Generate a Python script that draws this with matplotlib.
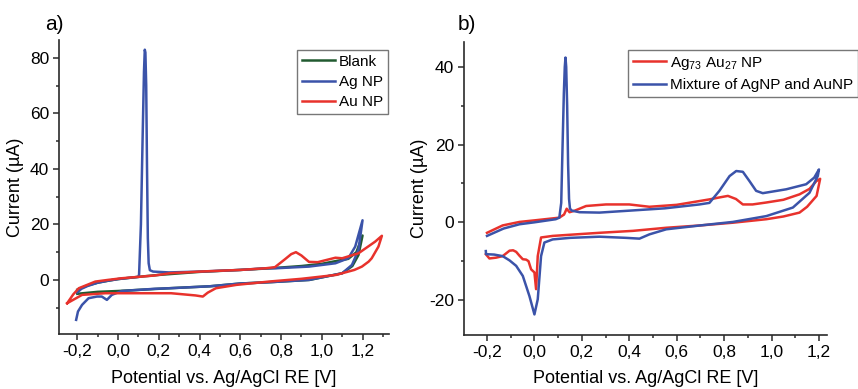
import matplotlib
matplotlib.use("Agg")
import matplotlib.pyplot as plt
from matplotlib.ticker import MultipleLocator, FuncFormatter

plt.rcParams['font.family'] = ['Liberation Sans', 'DejaVu Sans']
plt.rcParams['mathtext.default'] = 'regular'
plt.rcParams['axes.unicode_minus'] = False

# ---- panel a) : cyclic voltammograms (potential V, current uA) ----
# Blank
blank_up_E = [-0.20, -0.15, -0.10, -0.05, 0.00, 0.10, 0.20, 0.40, 0.60, 0.75, 0.90, 1.00, 1.07, 1.13, 1.17, 1.20]
blank_up_I = [-3.5, -2.0, -1.0, -0.3, 0.3, 1.1, 1.8, 2.9, 3.6, 4.2, 5.0, 5.8, 6.8, 7.6, 10.0, 16.0]
blank_dn_E = [1.20, 1.18, 1.15, 1.10, 0.94, 0.75, 0.60, 0.45, 0.25, 0.10, 0.00, -0.10, -0.20]
blank_dn_I = [16.0, 9.0, 5.0, 2.4, 0.0, -0.8, -1.3, -2.3, -3.0, -3.6, -4.0, -4.3, -5.0]

# Ag NP
ag_up_E = [-0.20, -0.18, -0.15, -0.10, -0.05, 0.00, 0.05, 0.10, 0.103, 0.112, 0.120, 0.127, 0.131,
           0.134, 0.138, 0.142, 0.146, 0.150, 0.156, 0.172, 0.25, 0.40, 0.60, 0.725, 0.774, 0.937,
           1.067, 1.13, 1.164, 1.20]
ag_up_I = [-4.5, -3.2, -2.2, -1.0, -0.3, 0.3, 0.7, 1.1, 2.0, 20.0, 50.0, 75.0, 83.0,
           82.0, 70.0, 40.0, 15.0, 6.0, 3.5, 3.0, 2.7, 3.0, 3.6, 4.2, 4.2, 4.8,
           6.0, 7.8, 12.0, 21.5]
ag_dn_E = [1.20, 1.18, 1.148, 1.10, 0.937, 0.75, 0.60, 0.45, 0.254, 0.18, 0.018, -0.031, -0.055,
           -0.08, -0.104, -0.145, -0.177, -0.197, -0.206]
ag_dn_I = [21.5, 10.8, 5.4, 2.4, 0.0, -0.8, -1.3, -2.3, -3.0, -3.2, -4.0, -5.4, -7.2,
           -6.0, -6.0, -6.6, -9.0, -11.4, -14.4]

# Au NP
au_up_E = [-0.25, -0.22, -0.193, -0.112, -0.05, 0.018, 0.10, 0.18, 0.254, 0.40, 0.60, 0.725, 0.77,
           0.82, 0.85, 0.873, 0.90, 0.937, 0.98, 1.067, 1.10, 1.18, 1.262, 1.295]
au_up_I = [-8.4, -5.2, -3.0, -0.6, 0.0, 0.6, 1.1, 1.6, 2.4, 3.0, 3.6, 4.2, 4.6,
           7.5, 9.3, 10.0, 8.8, 6.5, 6.4, 8.0, 7.8, 9.6, 13.8, 15.9]
au_dn_E = [1.295, 1.278, 1.245, 1.23, 1.197, 1.16, 1.07, 0.90, 0.74, 0.58, 0.48, 0.44, 0.416,
           0.38, 0.26, 0.10, -0.063, -0.177, -0.25]
au_dn_I = [15.9, 12.0, 7.8, 6.6, 4.8, 3.6, 1.8, 0.4, -0.6, -1.8, -3.0, -4.6, -6.0,
           -5.6, -4.8, -4.8, -4.8, -5.4, -8.4]

# ---- panel b) ----
# Ag73Au27 NP
alloy_up_E = [-0.20, -0.134, -0.063, 0.00, 0.105, 0.125, 0.136, 0.148, 0.17, 0.218, 0.302, 0.40,
              0.485, 0.60, 0.738, 0.78, 0.816, 0.85, 0.879, 0.92, 0.978, 1.05, 1.118, 1.16,
              1.189, 1.205]
alloy_up_I = [-2.7, -0.8, 0.1, 0.5, 1.2, 2.0, 3.5, 2.6, 3.0, 4.2, 4.6, 4.6,
              4.0, 4.5, 5.9, 6.4, 6.8, 6.0, 4.6, 4.6, 5.1, 5.8, 7.2, 8.6,
              10.6, 11.2]
alloy_dn_E = [1.205, 1.19, 1.15, 1.118, 1.05, 0.978, 0.837, 0.70, 0.556, 0.415, 0.274, 0.15,
              0.077, 0.028, 0.014, 0.007, 0.0, -0.014, -0.025, -0.035, -0.049, -0.063, -0.077,
              -0.09, -0.105, -0.134, -0.162, -0.19, -0.205]
alloy_dn_I = [11.2, 6.8, 4.0, 2.5, 1.5, 0.8, -0.1, -0.8, -1.4, -2.2, -2.7, -3.2,
              -3.5, -3.9, -8.7, -17.2, -12.9, -12.1, -10.0, -9.6, -9.5, -8.6, -7.6,
              -7.2, -7.3, -8.7, -9.1, -9.3, -8.2]

# Mixture of AgNP and AuNP
mix_up_E = [-0.20, -0.13, -0.063, 0.00, 0.09, 0.105, 0.113, 0.118, 0.124, 0.128, 0.131, 0.134,
            0.138, 0.142, 0.146, 0.150, 0.158, 0.19, 0.274, 0.40, 0.55, 0.696, 0.738, 0.78,
            0.823, 0.851, 0.879, 0.907, 0.935, 0.963, 1.062, 1.146, 1.18, 1.20]
mix_up_I = [-3.5, -1.6, -0.5, 0.0, 0.8, 1.2, 5.0, 18.0, 33.0, 40.0, 42.4, 40.0,
            30.0, 15.0, 6.0, 3.5, 3.0, 2.6, 2.5, 3.0, 3.6, 4.6, 5.0, 8.1,
            11.9, 13.2, 13.0, 10.6, 8.1, 7.5, 8.5, 9.8, 11.5, 13.6]
mix_dn_E = [1.20, 1.195, 1.16, 1.09, 0.978, 0.837, 0.70, 0.556, 0.485, 0.443, 0.387, 0.274,
            0.15, 0.077, 0.042, 0.028, 0.014, 0.0, -0.021, -0.049, -0.077, -0.105, -0.134,
            -0.17, -0.204, -0.205]
mix_dn_I = [13.6, 11.9, 7.6, 3.8, 1.6, 0.1, -0.8, -1.8, -3.1, -4.2, -4.0, -3.7,
            -4.0, -4.4, -5.2, -8.7, -19.8, -23.7, -19.0, -13.8, -11.2, -9.8, -8.7,
            -8.3, -8.2, -7.4]

GREEN = '#215a30'
BLUE = '#3b53a9'
RED = '#e8322c'
LW = 1.8

fig = plt.figure(figsize=(8.58, 3.89), dpi=100)
ax_a = fig.add_axes([0.0688, 0.1414, 0.3846, 0.7558])
ax_b = fig.add_axes([0.5408, 0.1388, 0.4231, 0.7532])

ax_a.plot(blank_up_E + blank_dn_E, blank_up_I + blank_dn_I, color=GREEN, lw=LW, label='Blank')
ax_a.plot(ag_up_E + ag_dn_E, ag_up_I + ag_dn_I, color=BLUE, lw=LW, label='Ag NP')
ax_a.plot(au_up_E + au_dn_E, au_up_I + au_dn_I, color=RED, lw=LW, label='Au NP')

ax_b.plot(alloy_up_E + alloy_dn_E, alloy_up_I + alloy_dn_I, color=RED, lw=LW,
          label='Ag$_{73}$ Au$_{27}$ NP')
ax_b.plot(mix_up_E + mix_dn_E, mix_up_I + mix_dn_I, color=BLUE, lw=LW,
          label='Mixture of AgNP and AuNP')

# decimal comma on the potential axis
comma = FuncFormatter(lambda v, p: f'{v:.1f}'.replace('.', ','))
for ax in (ax_a, ax_b):
    for s in ('top', 'right'):
        ax.spines[s].set_visible(False)
    for s in ('left', 'bottom'):
        ax.spines[s].set_linewidth(1.2)
        ax.spines[s].set_color('#2a2a2a')
    ax.xaxis.set_major_locator(MultipleLocator(0.2))
    ax.xaxis.set_minor_locator(MultipleLocator(0.1))
    ax.yaxis.set_major_locator(MultipleLocator(20))
    ax.yaxis.set_minor_locator(MultipleLocator(10))
    ax.xaxis.set_major_formatter(comma)
    ax.tick_params(which='major', direction='out', length=4, width=1.1, labelsize=12.5,
                   color='#2a2a2a', pad=3)
    ax.tick_params(which='minor', direction='out', length=2.5, width=1.1, color='#2a2a2a')
    ax.set_xlabel('Potential vs. Ag/AgCl RE [V]', fontsize=13)
    ax.set_ylabel('Current (µA)', fontsize=13)

ax_a.set_xlim(-0.29, 1.33)
ax_a.set_ylim(-19.5, 86.5)
ax_b.set_xlim(-0.297, 1.234)
ax_b.set_ylim(-29, 46.4)

ax_a.xaxis.set_label_coords(0.5, -0.122)
ax_b.xaxis.set_label_coords(0.5, -0.119)
ax_a.yaxis.set_label_coords(-0.106, 0.5)
ax_b.yaxis.set_label_coords(-0.099, 0.5)

leg_kw = dict(loc='upper left', bbox_transform=fig.transFigure, fancybox=False,
              edgecolor='#777777', framealpha=1, fontsize=11, handlelength=2.2,
              handletextpad=0.25, labelspacing=0.42, borderpad=0.3, borderaxespad=0)
la = ax_a.legend(bbox_to_anchor=(297 / 858, 1 - 50 / 389), **leg_kw)
lb = ax_b.legend(bbox_to_anchor=(628 / 858, 1 - 50 / 389), **leg_kw)
for lg in (la, lb):
    lg.get_frame().set_linewidth(1.0)

fig.text(45 / 858, 1 - 24 / 389, 'a)', fontsize=15, va='center', ha='left')
fig.text(458 / 858, 1 - 25 / 389, 'b)', fontsize=15, va='center', ha='left')

fig.savefig('out.png', dpi=100)
